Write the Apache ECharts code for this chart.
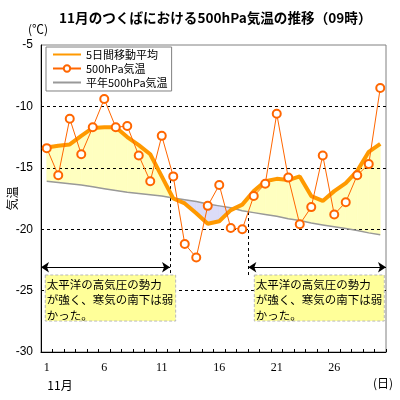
<!DOCTYPE html>
<html><head><meta charset="utf-8">
<script src="https://cdn.jsdelivr.net/npm/echarts@6/dist/echarts.min.js"></script>
<style>html,body{margin:0;padding:0;background:#fff}#c{width:400px;height:400px}</style>
</head><body><div id="c"></div>
<script>
const days = ['1','2','3','4','5','6','7','8','9','10','11','12','13','14','15','16','17','18','19','20','21','22','23','24','25','26','27','28','29','30'];
const temp500 = [-13.4,-15.6,-11.0,-13.9,-11.7,-9.4,-11.7,-11.6,-14.0,-16.1,-12.4,-15.7,-21.2,-22.3,-18.1,-16.4,-19.9,-20.0,-17.3,-16.3,-10.6,-15.8,-19.6,-18.2,-14.0,-18.8,-17.8,-15.6,-14.7,-8.5];
const avg5 = [-13.35,-13.2,-13.1,-12.4,-11.75,-11.7,-11.7,-12.5,-13.15,-13.9,-15.7,-17.5,-17.9,-18.7,-19.55,-19.35,-18.45,-18.0,-16.9,-16.1,-15.9,-16.0,-15.7,-17.3,-17.7,-16.9,-16.25,-15.25,-13.7,-13.05];
const normal = [-16.1,-16.2,-16.3,-16.4,-16.55,-16.7,-16.85,-17.0,-17.1,-17.2,-17.3,-17.45,-17.6,-17.75,-17.95,-18.1,-18.25,-18.5,-18.65,-18.8,-18.95,-19.15,-19.3,-19.5,-19.65,-19.8,-19.95,-20.1,-20.3,-20.45];
const yTicks = [-30,-25,-20,-15,-10,-5];
const noteLines = ['太平洋の高気圧の勢力','が強く、寒気の南下は弱','かった。'];
const periodStart = [0.5, 18.53];
const periodEnd = [11.72, 30.5];

// fill between moving average and normal, with crossing points derived from the arrays
const fillPts = [];
for (let i = 0; i < days.length; i++) {
  const x = i + 1, a = avg5[i], n = normal[i];
  fillPts.push([x, a, n]);
  if (i < days.length - 1) {
    const d0 = a - n, d1 = avg5[i + 1] - normal[i + 1];
    if (d0 * d1 < 0) {
      const t = d0 / (d0 - d1);
      fillPts.push([x + t, a + (avg5[i + 1] - a) * t, n + (normal[i + 1] - n) * t]);
    }
  }
}
const fillSegs = [];
for (let k = 0; k < fillPts.length - 1; k++) {
  const p = fillPts[k], q = fillPts[k + 1];
  fillSegs.push([p[0], p[1], p[2], q[0], q[1], q[2]]);
}

const JP = '"Noto Sans CJK JP", sans-serif';
const WARM = '#ffffc0', COLD = '#dcdcf8';
const noteText = noteLines.join('\n');
const gridLineData = yTicks.slice(1, -1).map(v => ({yAxis: v}));

const chart = echarts.init(document.getElementById('c'), null, {renderer:'canvas', width:400, height:400});
chart.setOption({
  animation:false,
  backgroundColor:'#fff',
  title:{text:'11月のつくばにおける500hPa気温の推移（09時）', left:59, top:11, padding:0,
    textStyle:{fontSize:13.6, fontWeight:'bold', color:'#000', fontFamily:JP}},
  grid:{left:41, right:14, top:45, bottom:48, show:true, borderColor:'#808080', borderWidth:1, backgroundColor:'transparent', outerBoundsMode:'none', containLabel:false},
  legend:{orient:'vertical', left:46, top:47, padding:[2,4,3,6], itemGap:3, itemWidth:28, itemHeight:8,
    backgroundColor:'#fff', borderColor:'#808080', borderWidth:1, borderRadius:0,
    data:[
      {name:'5日間移動平均', itemStyle:{opacity:0}},
      {name:'500hPa気温'},
      {name:'平年500hPa気温', itemStyle:{opacity:0}}
    ],
    textStyle:{fontSize:11, color:'#000', fontFamily:JP, padding:0}},
  graphic:[
    {type:'text', x:38, y:29, style:{text:'(℃)', font:'12px '+JP, fill:'#000', textAlign:'center', textVerticalAlign:'middle'}},
    {type:'text', x:60, y:385, style:{text:'11月', font:'12px '+JP, fill:'#000', textAlign:'center', textVerticalAlign:'middle'}},
    {type:'text', x:383, y:383, style:{text:'(日)', font:'12px '+JP, fill:'#000', textAlign:'center', textVerticalAlign:'middle'}}
  ],
  xAxis:[
    {type:'category', data:days, boundaryGap:true,
      axisLine:{show:true, lineStyle:{color:'#000', width:1}},
      axisTick:{show:true, inside:true, length:3, interval:0, alignWithLabel:false, lineStyle:{color:'#000'}},
      axisLabel:{interval:(i)=> i % 5 === 0, color:'#000', fontSize:12, fontFamily:'"Liberation Serif", serif', margin:10},
      splitLine:{show:false}},
    {type:'value', min:0.5, max:30.5, show:false, splitLine:{show:false}}
  ],
  yAxis:{type:'value', min:yTicks[0], max:yTicks[yTicks.length-1], interval:5,
    name:'気温', nameLocation:'middle', nameRotate:90, nameGap:23, nameMoveOverlap:false,
    nameTextStyle:{fontSize:12, color:'#000', fontFamily:JP},
    axisLine:{show:true, lineStyle:{color:'#000', width:1}},
    axisTick:{show:false},
    axisLabel:{color:'#000', fontSize:12, fontFamily:'"Liberation Sans", sans-serif', margin:8},
    splitLine:{show:false}},
  series:[
    {name:'fill', type:'custom', xAxisIndex:1, yAxisIndex:0, z:1, silent:true, data:fillSegs,
      encode:{x:[0,3], y:[1,2,4,5]},
      renderItem:(params, api) => {
        const x0 = api.value(0), a0 = api.value(1), n0 = api.value(2);
        const x1 = api.value(3), a1 = api.value(4), n1 = api.value(5);
        const warm = (a0 - n0) + (a1 - n1) > 0;
        const c = warm ? WARM : COLD;
        return {type:'polygon',
          shape:{points:[api.coord([x0,a0]), api.coord([x1,a1]), api.coord([x1,n1]), api.coord([x0,n0])]},
          style:{fill:c, stroke:c, lineWidth:0.6}};
      }},
    {name:'gridlines', type:'line', xAxisIndex:1, data:[], silent:true,
      markLine:{silent:true, z:1.5, symbol:['none','none'], label:{show:false}, animation:false,
        lineStyle:{color:'#000', width:1, type:[3,3]},
        data:gridLineData.concat([
          [{coord:[periodEnd[0], -16.0]}, {coord:[periodEnd[0], -23.8]}],
          [{coord:[periodStart[1], -18.6]}, {coord:[periodStart[1], -23.8]}]
        ])}},
    {name:'平年500hPa気温', type:'line', data:normal, symbol:'none', z:2,
      lineStyle:{color:'#999999', width:1.5}, itemStyle:{color:'#999999'}},
    {name:'5日間移動平均', type:'line', data:avg5, symbol:'none', z:3,
      lineStyle:{color:'#ff9900', width:4}, itemStyle:{color:'#ff9900'}},
    {name:'500hPa気温', type:'line', data:temp500, symbol:'emptyCircle', symbolSize:8, showAllSymbol:true, z:4,
      lineStyle:{color:'#ff6600', width:1}, itemStyle:{color:'#ff6600', borderColor:'#ff6600', borderWidth:1}},
    {name:'notes', type:'line', xAxisIndex:1, data:[], silent:true,
      markLine:{silent:true, z:5, symbol:['arrow','arrow'], symbolSize:8, label:{show:false}, animation:false,
        lineStyle:{color:'#000', width:1, type:'solid'},
        data:[
          [{coord:[periodStart[0], -23.1]}, {coord:[periodEnd[0], -23.1]}],
          [{coord:[periodStart[1], -23.1]}, {coord:[periodEnd[1], -23.1]}]
        ]},
      markArea:{silent:true, z:6, animation:false,
        itemStyle:{color:'#ffff99', borderColor:'#b8b8b8', borderWidth:1, borderType:[3,2]},
        label:{show:true, position:'insideTopLeft', distance:2, color:'#000', fontSize:11.5, lineHeight:15.5, fontFamily:JP, formatter:'{b}'},
        data:[
          [{name:noteText, coord:[0.87, -23.73]}, {coord:[12.21, -27.48]}],
          [{name:noteText, coord:[19.05, -23.73]}, {coord:[30.35, -27.48]}]
        ]}}
  ]
});
</script></body></html>
